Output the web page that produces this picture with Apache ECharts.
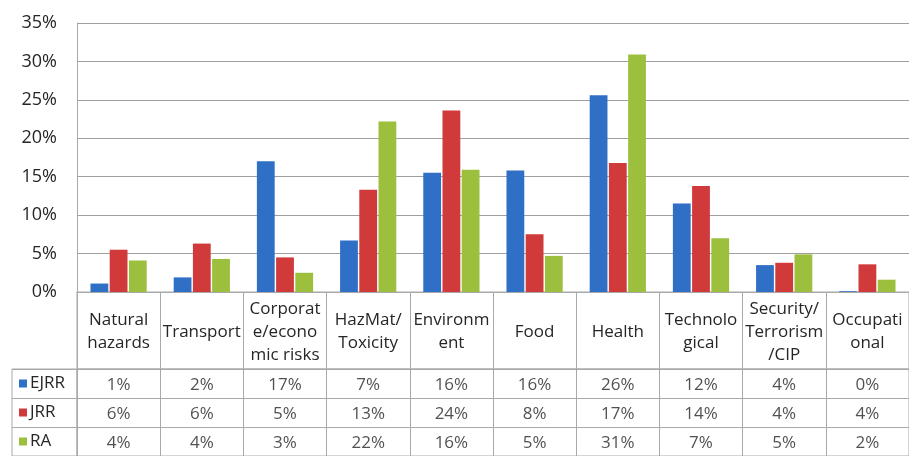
<!DOCTYPE html>
<html>
<head>
	<meta charset="utf-8">
	<title>Risk categories by journal</title>
</head>
<body style="margin:0">
	<div id="box" style="width: 909px;height: 456px"></div>
</body>
<script type="text/javascript" src="https://cdn.jsdelivr.net/npm/echarts@6/dist/echarts.min.js"></script>
<script type="text/javascript">
	// categories (header row of the data table, line breaks as printed)
	var categories = ['Natural\nhazards', 'Transport', 'Corporat\ne/econo\nmic risks', 'HazMat/\nToxicity',
		'Environm\nent', 'Food', 'Health', 'Technolo\ngical', 'Security/\nTerrorism\n/CIP', 'Occupati\nonal'];
	var seriesNames = ['EJRR', 'JRR', 'RA'];
	// share of articles, %
	var ejrr = [1.1, 1.9, 17.0, 6.7, 15.5, 15.8, 25.6, 11.5, 3.5, 0.1];
	var jrr = [5.5, 6.3, 4.5, 13.3, 23.6, 7.5, 16.8, 13.8, 3.8, 3.6];
	var ra = [4.1, 4.3, 2.5, 22.2, 15.9, 4.7, 30.9, 7.0, 4.9, 1.6];
	var yTicks = [0, 5, 10, 15, 20, 25, 30, 35];

	var colors = ['#2f6fc6', '#d03a3a', '#9cc03e'];
	var allValues = [ejrr, jrr, ra];
	var font = '"Open Sans", sans-serif';
	var txt = '#262626';
	var lineCol = '#a9a9a9';

	// table cells: [column, row, text]
	var cells = [];
	allValues.forEach(function (arr, r) {
		arr.forEach(function (v, c) {
			cells.push([c, r, Math.round(v) + '%']);
		});
	});

	var rich = { t: { fontFamily: font, fontSize: 17, color: txt, padding: [0, 0, 0, 3] } };
	colors.forEach(function (c, i) {
		rich['s' + i] = { width: 8, height: 8, backgroundColor: c };
	});

	var dom = document.getElementById('box');
	var myChart = echarts.init(dom);
	myChart.setOption({
		animation: false,
		textStyle: { fontFamily: font },
		grid: [
			{ left: 77, right: -5, top: 23, height: 269 },                  // bars
			{ left: 77, right: -5, top: 292, height: 77, show: true, borderColor: lineCol },   // header row
			{ left: 77, right: -5, top: 369, height: 90, show: true, borderColor: lineCol },   // value rows
			{ left: 12, width: 65, top: 369, height: 90, show: true, borderColor: lineCol }    // series names
		],
		xAxis: [
			{
				gridIndex: 0, type: 'category', data: categories,
				axisLine: { lineStyle: { color: lineCol } },
				axisTick: { show: false },
				axisLabel: {
					interval: 0, margin: 40, verticalAlign: 'middle', align: 'center',
					fontSize: 17, lineHeight: 23, color: txt, fontFamily: font
				}
			},
			{
				gridIndex: 1, type: 'category', data: categories,
				axisLine: { show: false }, axisTick: { show: false }, axisLabel: { show: false },
				splitLine: { show: true, lineStyle: { color: lineCol } }
			},
			{
				gridIndex: 2, type: 'category', data: categories,
				axisLine: { show: false }, axisTick: { show: false }, axisLabel: { show: false },
				splitLine: { show: true, lineStyle: { color: lineCol } }
			},
			{ gridIndex: 3, type: 'value', show: false }
		],
		yAxis: [
			{
				gridIndex: 0, type: 'value', min: 0, max: 35, interval: 5,
				axisLine: { show: true, lineStyle: { color: lineCol } },
				axisLabel: {
					margin: 20, fontSize: 18, color: txt, fontFamily: font,
					formatter: function (v) { return yTicks.indexOf(v) >= 0 ? v + '%' : ''; }
				},
				splitLine: { lineStyle: { color: '#a0a0a0' } }
			},
			{ gridIndex: 1, type: 'value', show: false },
			{
				gridIndex: 2, type: 'category', data: seriesNames, inverse: true,
				axisLine: { show: false }, axisTick: { show: false }, axisLabel: { show: false },
				splitLine: { show: true, lineStyle: { color: lineCol } }
			},
			{
				gridIndex: 3, type: 'category', data: seriesNames, inverse: true,
				axisLine: { show: false }, axisTick: { show: false },
				splitLine: { show: true, lineStyle: { color: lineCol } },
				axisLabel: {
					inside: true, margin: 7,
					formatter: function (v, i) { return '{s' + i + '|}{t|' + v + '}'; },
					rich: rich
				}
			}
		],
		series: seriesNames.map(function (name, i) {
			return {
				name: name, type: 'bar', xAxisIndex: 0, yAxisIndex: 0,
				barWidth: 17.8, barGap: '8%',
				itemStyle: { color: colors[i] },
				data: allValues[i]
			};
		}).concat([{
			type: 'scatter', xAxisIndex: 2, yAxisIndex: 2,
			symbolSize: 0, itemStyle: { color: 'transparent' },
			label: {
				show: true, position: 'inside', offset: [0, 2], fontSize: 17, color: txt, fontFamily: font,
				formatter: function (p) { return p.value[2]; }
			},
			data: cells
		}])
	});
</script>
</html>
